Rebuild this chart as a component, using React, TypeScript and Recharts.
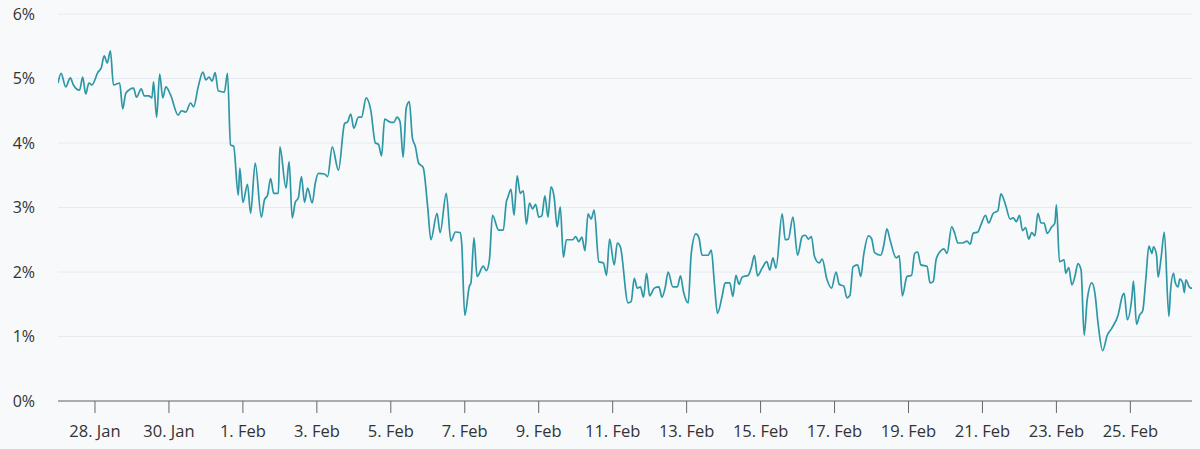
import React from "react";
import { LineChart, Line, XAxis, YAxis, CartesianGrid } from "recharts";

// hours since 27 Jan 00:00
const hours = [
  0, 2, 5, 8, 10, 14, 16, 18, 20, 22, 26, 28, 30, 32, 34, 36, 40, 42, 44, 49,
  51, 54, 56, 59, 61, 62, 64, 66, 68, 70, 73, 78, 80, 83, 86, 88, 91, 94, 96, 98,
  100, 102, 104, 108, 110, 112, 114, 117, 118, 120, 123, 125, 128, 132, 134, 136, 138, 140, 143, 144,
  148, 150, 152, 154, 156, 158, 160, 162, 165, 167, 169, 173, 175, 178, 182, 186, 188, 190, 192, 195,
  197, 200, 203, 206, 208, 210, 212, 216, 218, 220, 222, 224, 226, 228, 230, 232, 234, 237, 240, 242,
  246, 248, 252, 255, 258, 261, 262, 264, 267, 268, 270, 272, 276, 278, 280, 282, 286, 289, 291, 292,
  294, 296, 298, 300, 302, 304, 306, 308, 310, 312, 314, 316, 318, 320, 322, 324, 326, 328, 330, 334,
  336, 338, 340, 342, 344, 346, 348, 351, 354, 356, 358, 361, 363, 365, 370, 372, 374, 376, 378, 380,
  382, 384, 387, 390, 392, 394, 396, 399, 402, 404, 406, 409, 411, 414, 416, 418, 422, 424, 426, 428,
  431, 433, 436, 438, 440, 442, 444, 448, 450, 452, 454, 457, 460, 462, 464, 466, 470, 472, 474, 477,
  480, 483, 485, 487, 489, 491, 494, 496, 499, 502, 505, 507, 510, 512, 514, 516, 519, 521, 523, 526,
  528, 530, 534, 536, 538, 540, 544, 546, 548, 551, 554, 556, 558, 560, 564, 566, 568, 570, 573, 575,
  577, 580, 582, 584, 587, 590, 592, 594, 597, 599, 602, 604, 607, 610, 612, 615, 618, 620, 622, 624,
  626, 628, 630, 632, 634, 636, 638, 640, 642, 645, 647, 648, 650, 653, 654, 656, 658, 660, 662, 664,
  666, 668, 671, 673, 675, 678, 681, 684, 688, 691, 692, 694, 697, 698, 700, 702, 704, 706, 708, 710,
  711, 713, 714, 716, 718, 721, 722, 724, 725, 727, 728, 730, 731, 732, 734, 735, 736,
];

const rates = [
  4.93, 5.08, 4.87, 5.01, 4.9, 4.82, 5.02, 4.76, 4.93, 4.9, 5.1, 5.16, 5.35, 5.24, 5.43, 4.9, 4.93, 4.53, 4.77, 4.85,
  4.71, 4.84, 4.73, 4.73, 4.7, 4.95, 4.4, 5.07, 4.7, 4.87, 4.75, 4.43, 4.5, 4.48, 4.62, 4.56, 4.87, 5.1, 4.98, 5.02,
  4.96, 5.09, 4.81, 4.79, 5.08, 3.97, 3.95, 3.19, 3.61, 3.08, 3.36, 2.91, 3.69, 2.85, 3.12, 3.19, 3.45, 3.22, 3.22, 3.94,
  3.3, 3.71, 2.84, 3.08, 3.15, 3.48, 3.08, 3.3, 3.07, 3.38, 3.53, 3.52, 3.48, 3.94, 3.58, 4.3, 4.33, 4.45, 4.23, 4.4,
  4.4, 4.7, 4.51, 4.0, 3.98, 3.8, 4.37, 4.32, 4.32, 4.4, 4.33, 3.78, 4.54, 4.64, 4.08, 3.94, 3.69, 3.62, 2.99, 2.5,
  2.91, 2.61, 3.22, 2.48, 2.62, 2.61, 2.45, 1.33, 1.78, 1.83, 2.53, 1.93, 2.09, 2.02, 2.19, 2.88, 2.65, 2.65, 3.09, 3.16,
  3.28, 2.88, 3.49, 3.22, 3.26, 2.74, 3.07, 2.98, 3.05, 2.85, 2.87, 3.18, 2.85, 3.32, 3.16, 2.7, 3.01, 2.23, 2.5, 2.5,
  2.55, 2.47, 2.54, 2.33, 2.9, 2.82, 2.96, 2.16, 2.14, 1.95, 2.51, 2.11, 2.45, 2.39, 1.52, 1.54, 1.9, 1.75, 1.77, 1.61,
  1.98, 1.63, 1.75, 1.77, 1.61, 1.75, 2.0, 1.77, 1.77, 1.94, 1.69, 1.52, 2.29, 2.59, 2.53, 2.26, 2.26, 2.34, 1.83, 1.36,
  1.62, 1.83, 1.83, 1.62, 1.95, 1.81, 1.92, 1.95, 2.07, 2.26, 1.94, 2.06, 2.16, 2.03, 2.22, 2.06, 2.9, 2.5, 2.51, 2.85,
  2.26, 2.55, 2.57, 2.51, 2.55, 2.24, 2.14, 2.2, 1.89, 1.75, 2.0, 1.81, 1.78, 1.6, 1.64, 2.08, 2.11, 1.93, 2.28, 2.56,
  2.52, 2.3, 2.26, 2.42, 2.67, 2.5, 2.22, 2.25, 1.63, 1.93, 1.95, 2.29, 2.31, 2.11, 2.09, 1.83, 1.85, 2.2, 2.33, 2.36,
  2.29, 2.7, 2.6, 2.45, 2.45, 2.48, 2.43, 2.6, 2.62, 2.73, 2.88, 2.76, 2.91, 2.95, 3.21, 3.04, 2.82, 2.84, 2.78, 2.88,
  2.64, 2.69, 2.51, 2.61, 2.56, 2.91, 2.76, 2.76, 2.6, 2.7, 2.76, 3.04, 2.16, 2.19, 1.98, 2.07, 1.8, 1.93, 2.13, 2.03,
  1.02, 1.57, 1.83, 1.67, 1.21, 0.78, 1.02, 1.13, 1.33, 1.64, 1.67, 1.26, 1.61, 1.86, 1.19, 1.33, 1.4, 1.88, 2.4, 2.29,
  2.39, 2.26, 1.92, 2.23, 2.62, 1.31, 1.69, 1.98, 1.85, 1.77, 1.89, 1.83, 1.68, 1.88, 1.78, 1.75, 1.75,
];

const tickLabels = [
  "28. Jan", "30. Jan", "1. Feb", "3. Feb", "5. Feb", "7. Feb", "9. Feb", "11. Feb",
  "13. Feb", "15. Feb", "17. Feb", "19. Feb", "21. Feb", "23. Feb", "25. Feb",
];
const tickHours = tickLabels.map((_, i) => 24 + 48 * i);
const yTicks = [0, 1, 2, 3, 4, 5, 6];

const data = hours.map((h, i) => ({ h, v: rates[i] }));

const font = "'Open Sans', sans-serif";

export default function App() {
  return (
    <div
      style={{
        position: "absolute",
        left: 0,
        top: 0,
        width: 1200,
        height: 449,
        background: "#f8f9fb",
        fontFamily: font,
      }}
    >
      <LineChart
        width={1200}
        height={449}
        data={data}
        margin={{ top: 14, right: 8, bottom: 18, left: 0 }}
      >
        <CartesianGrid horizontal vertical={false} stroke="#e6eaf1" strokeWidth={1} />
        <XAxis
          dataKey="h"
          type="number"
          domain={[0, 736]}
          ticks={tickHours}
          tickFormatter={(h: number) => tickLabels[tickHours.indexOf(h)] ?? ""}
          height={30}
          tickSize={12}
          tickMargin={12}
          axisLine={{ stroke: "#666666", strokeWidth: 1 }}
          tickLine={{ stroke: "#666666", strokeWidth: 1 }}
          tick={{ fill: "#333333", fontSize: 16.5, fontFamily: font }}
          interval={0}
          allowDataOverflow
        />
        <YAxis
          type="number"
          domain={[0, 6]}
          ticks={yTicks}
          tickFormatter={(v: number) => `${v}%`}
          width={58}
          axisLine={false}
          tickLine={false}
          tickSize={0}
          tickMargin={23}
          tick={{ fill: "#333333", fontSize: 16, fontFamily: font }}
          interval={0}
        />
        <Line
          type="monotone"
          dataKey="v"
          stroke="#2e97a6"
          strokeWidth={1.7}
          dot={false}
          activeDot={false}
          isAnimationActive={false}
        />
      </LineChart>
    </div>
  );
}
